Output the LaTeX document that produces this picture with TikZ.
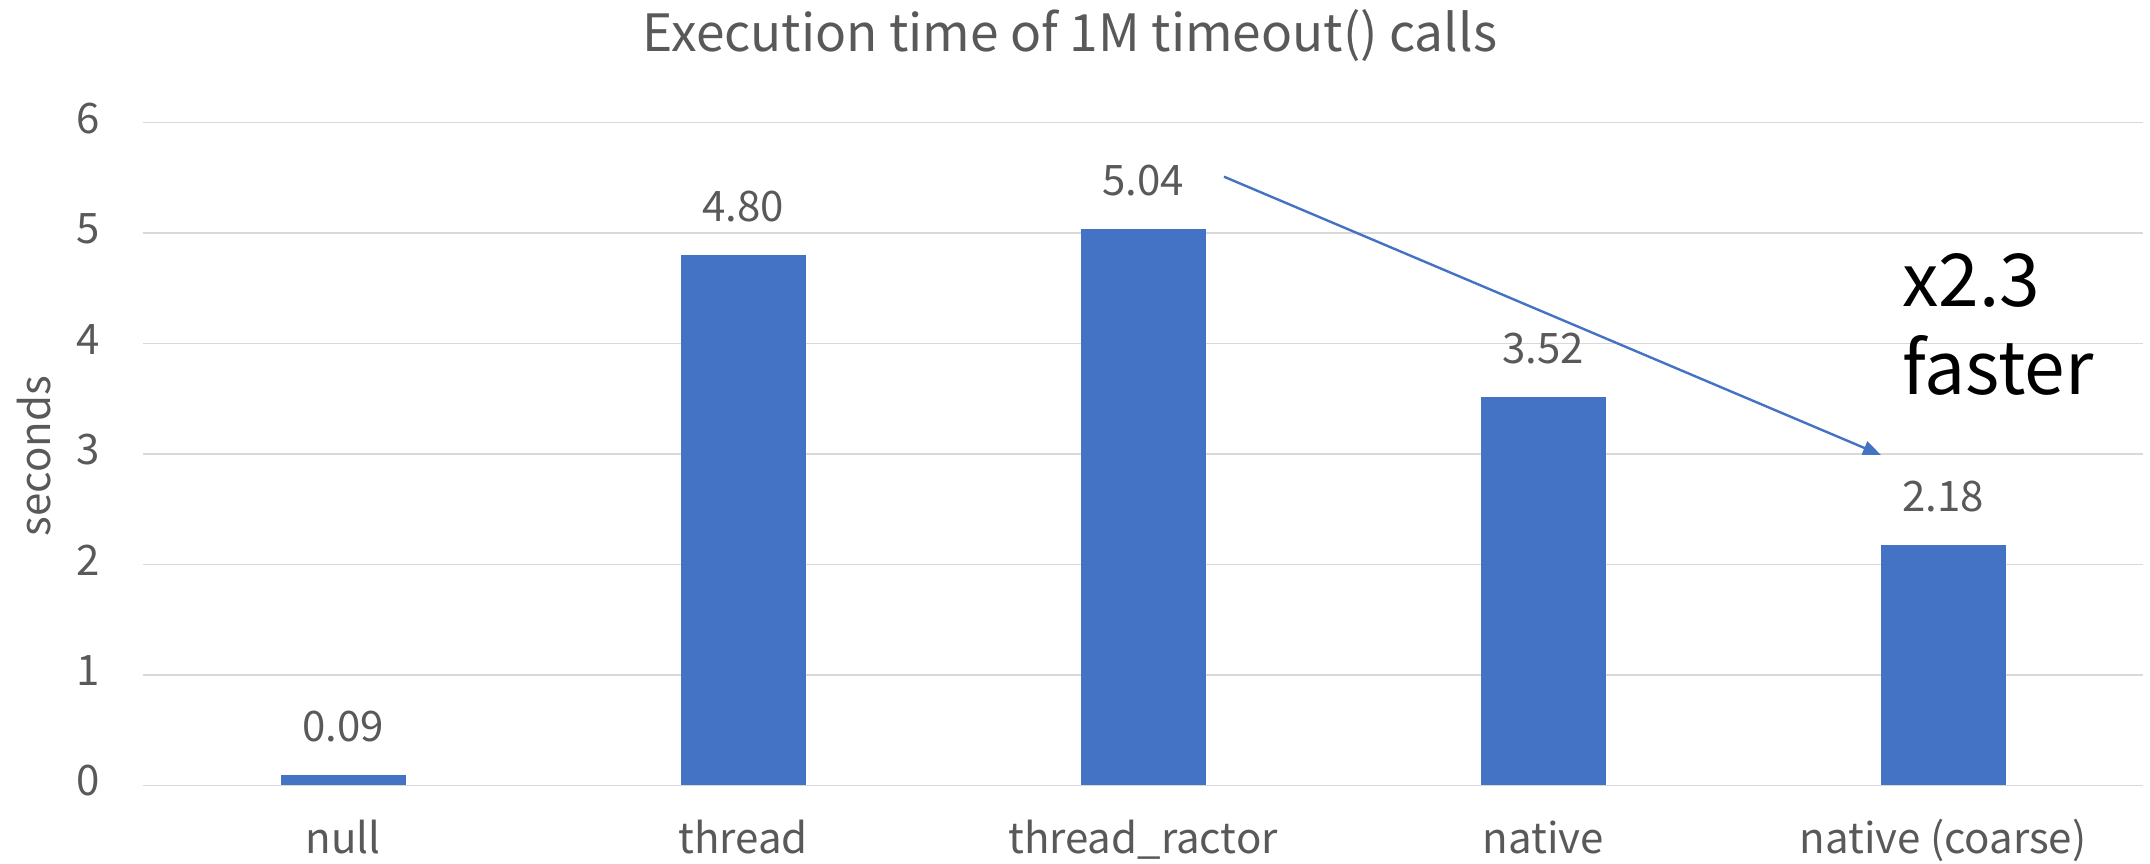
\documentclass[tikz,border=0pt]{standalone}
\usepackage{fontspec}
\setmainfont{Noto Sans CJK JP}
\usetikzlibrary{arrows.meta}
\definecolor{barblue}{HTML}{4472C4}
\definecolor{gridgray}{HTML}{D9D9D9}
\definecolor{labelgray}{HTML}{595959}

\begin{document}
\begin{tikzpicture}[x=0.5pt,y=0.5pt,
  gridline/.style={draw=gridgray, line width=0.75pt},
  ticklabel/.style={anchor=base east, inner sep=0pt, text=labelgray, font=\fontsize{21}{25}\selectfont},
  valuelabel/.style={anchor=base, inner sep=0pt, text=labelgray, font=\fontsize{21}{25}\selectfont},
  catlabel/.style={anchor=base, inner sep=0pt, text=labelgray, font=\fontsize{21}{25}\selectfont},
  titlelabel/.style={anchor=base, inner sep=0pt, text=labelgray, font=\fontsize{25.7}{30}\selectfont},
  barfill/.style={fill=barblue},
  notelabel/.style={anchor=base west, inner sep=0pt, text=black, font=\fontsize{36.5}{44}\selectfont},
  speedup/.style={draw=barblue, line width=1.2pt, -{Triangle[length=9pt,width=7pt]}}
]
\useasboundingbox (0,0) rectangle (2150,863);
\fill[white] (0,0) rectangle (2150,863);

% horizontal grid and y tick labels
\foreach \k in {0,...,6} {
  \draw[gridline] (143,{77.7+\k*110.43}) -- (2143,{77.7+\k*110.43});
  \node[ticklabel] (tick\k) at (100,{77.7+\k*110.43-10.6}) {\k};
}

% bars with value and category labels
\foreach \i/\v/\val/\cat in {0/0.09/0.09/null, 1/4.80/4.80/thread, 2/5.04/5.04/thread\_ractor, 3/3.52/3.52/native, 4/2.18/2.18/native (coarse)} {
  \pgfmathsetmacro{\cx}{343+400*\i}
  \fill[barfill] ({\cx-62.5},77.7) rectangle ({\cx+62.5},{77.7+\v*110.43});
  \node[valuelabel] (val\i) at (\cx,{77.7+\v*110.43+33.5}) {\val};
  \node[catlabel] (cat\i) at (\cx,10) {\cat};
}

% title and axis name
\node[titlelabel] (title) at (1070,811.3) {Execution time of 1M timeout() calls};
\node[anchor=base, inner sep=0pt, rotate=90, text=labelgray, font=\fontsize{21}{25}\selectfont] (ylabel) at (50,407) {seconds};

% speed-up annotation
\coordinate (arrowfrom) at (1224,686.3);
\coordinate (arrowto) at (1881,408);
\draw[speedup] (arrowfrom) -- (arrowto);
\node[notelabel] (note1) at (1902,556.3) {x2.3};
\node[notelabel] (note2) at (1902,468) {faster};
\end{tikzpicture}
\end{document}
